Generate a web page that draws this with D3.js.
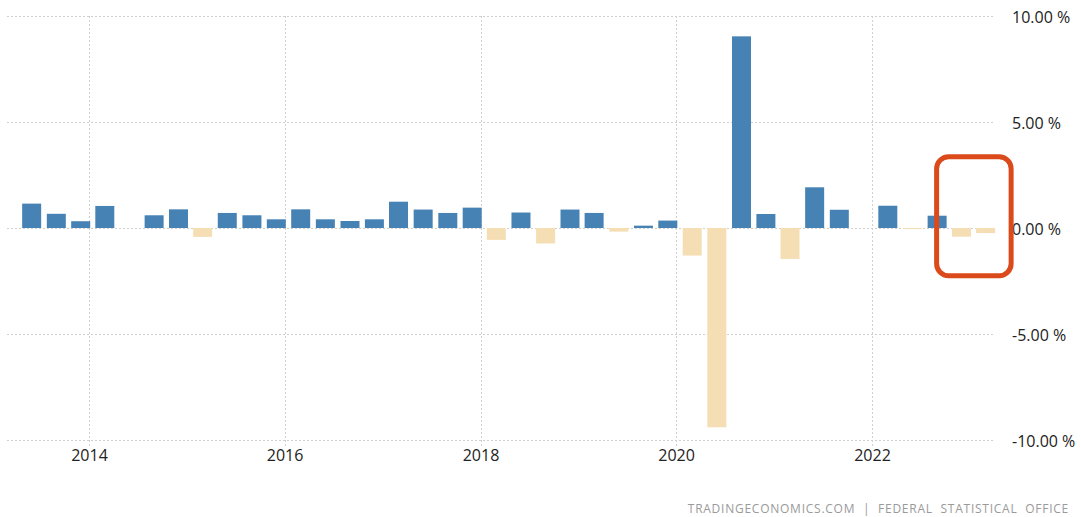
<!DOCTYPE html>
<html>
<head>
<meta charset="utf-8">
<script src="https://cdn.jsdelivr.net/npm/d3@7/dist/d3.min.js"></script>
<style>
  html, body { margin: 0; padding: 0; background: #fff; }
  svg { display: block; }
</style>
</head>
<body>
<svg id="chart" width="1081" height="517"></svg>
<script>
// Quarterly GDP growth rate (QoQ, %), Q2 2013 – Q1 2023
const quarters = [
  "2013Q2","2013Q3","2013Q4",
  "2014Q1","2014Q2","2014Q3","2014Q4",
  "2015Q1","2015Q2","2015Q3","2015Q4",
  "2016Q1","2016Q2","2016Q3","2016Q4",
  "2017Q1","2017Q2","2017Q3","2017Q4",
  "2018Q1","2018Q2","2018Q3","2018Q4",
  "2019Q1","2019Q2","2019Q3","2019Q4",
  "2020Q1","2020Q2","2020Q3","2020Q4",
  "2021Q1","2021Q2","2021Q3","2021Q4",
  "2022Q1","2022Q2","2022Q3","2022Q4",
  "2023Q1"
];
const growth = [
  1.15, 0.67, 0.32,
  1.04, 0.0, 0.60, 0.88,
  -0.42, 0.71, 0.60, 0.41,
  0.88, 0.41, 0.33, 0.41,
  1.24, 0.87, 0.71, 0.96,
  -0.56, 0.73, -0.73, 0.87,
  0.71, -0.17, 0.11, 0.35,
  -1.30, -9.40, 9.04, 0.66,
  -1.46, 1.92, 0.86, 0.0,
  1.05, -0.05, 0.58, -0.41,
  -0.24
];
const yTicks = [10, 5, 0, -5, -10];
const xTickYears = [2014, 2016, 2018, 2020, 2022];
const sourceText = "TRADINGECONOMICS.COM  |  FEDERAL  STATISTICAL  OFFICE";

// each quarter is plotted at the first day of its last month
const quarterDate = q => new Date(+q.slice(0, 4), +q.slice(5) * 3 - 1, 1);
const data = quarters.map((q, i) => ({ date: quarterDate(q), value: growth[i] }));

const svg = d3.select("#chart");
const x = d3.scaleTime()
  .domain([new Date(2014, 0, 1), new Date(2022, 0, 1)])
  .range([89, 872]);
const y = d3.scaleLinear().domain([-10, 10]).range([440, 16]);

const gridLeft = 7, gridRight = 993;
const gridColor = "#cfcfcf";
const labelFont = "'Open Sans', sans-serif";

// horizontal grid
svg.append("g").selectAll("line").data(yTicks).join("line")
  .attr("x1", gridLeft).attr("x2", gridRight)
  .attr("y1", d => y(d) + 0.5).attr("y2", d => y(d) + 0.5)
  .attr("stroke", gridColor).attr("stroke-width", 1)
  .attr("stroke-dasharray", "2,2");

// vertical grid at each labelled year
svg.append("g").selectAll("line").data(xTickYears).join("line")
  .attr("x1", d => Math.round(x(new Date(d, 0, 1))) + 0.5)
  .attr("x2", d => Math.round(x(new Date(d, 0, 1))) + 0.5)
  .attr("y1", y(10)).attr("y2", y(-10) + 6)
  .attr("stroke", gridColor).attr("stroke-width", 1)
  .attr("stroke-dasharray", "2,2");

// bars
const barW = 19;
svg.append("g").selectAll("rect").data(data).join("rect")
  .attr("x", d => x(d.date) - barW / 2)
  .attr("width", barW)
  .attr("y", d => y(Math.max(0, d.value)))
  .attr("height", d => Math.max(Math.abs(y(d.value) - y(0)), d.value !== 0 ? 1 : 0))
  .attr("fill", d => d.value >= 0 ? "#4682b4" : "#f5deb3");

// y axis labels (right side), plain hyphen for negatives
const fmt = d3.format(".2f");
const yAxis = d3.axisRight(y).tickValues(yTicks)
  .tickFormat(d => fmt(d).replace("\u2212", "-") + " %").tickSize(0).tickPadding(0);
svg.append("g")
  .attr("transform", "translate(1012,1)")
  .call(yAxis)
  .call(g => g.select(".domain").remove())
  .call(g => g.selectAll("text")
    .attr("fill", "#222").attr("font-size", "16px")
    .attr("font-family", labelFont));

// x axis labels
const xAxis = d3.axisBottom(x).tickValues(xTickYears.map(d => new Date(d, 0, 1)))
  .tickFormat(d3.timeFormat("%Y")).tickSize(0).tickPadding(0);
svg.append("g")
  .attr("transform", "translate(0,450)")
  .call(xAxis)
  .call(g => g.select(".domain").remove())
  .call(g => g.selectAll("text")
    .attr("fill", "#222").attr("font-size", "16px")
    .attr("font-family", labelFont));

// source line
svg.append("text")
  .attr("x", 1069).attr("y", 513)
  .attr("text-anchor", "end")
  .attr("fill", "#9a9a9a").attr("font-size", "12px")
  .attr("letter-spacing", "0.75px")
  .attr("font-family", labelFont)
  .style("white-space", "pre")
  .text(sourceText);

// highlight box around the latest quarters
const latest = data.slice(-2);
const boxPadX = 8;
svg.append("rect")
  .attr("x", x(data[data.length - 3].date) - 0.5)
  .attr("y", 156.8)
  .attr("width", (x(latest[1].date) + barW / 2 + boxPadX + 8.5) - x(data[data.length - 3].date))
  .attr("height", 119)
  .attr("rx", 12).attr("ry", 12)
  .attr("fill", "none")
  .attr("stroke", "#db4a1b")
  .attr("stroke-width", 5);
</script>
</body>
</html>
